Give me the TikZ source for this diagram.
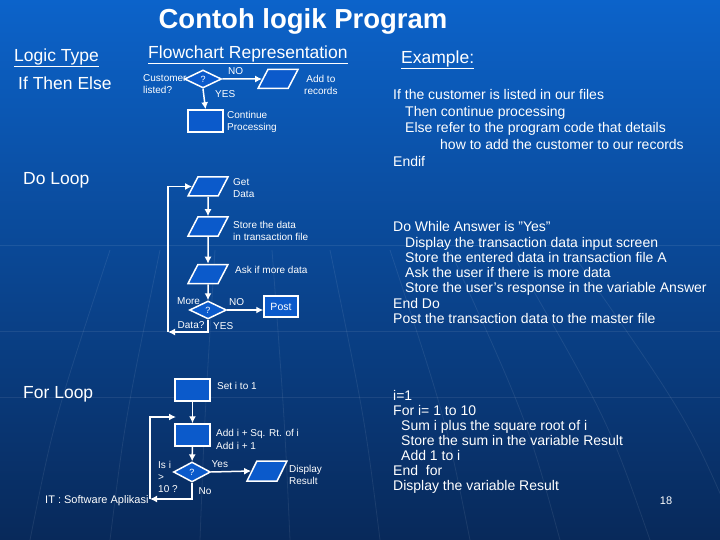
\documentclass[tikz,border=0pt]{standalone}
\usepackage{fontspec}
\setmainfont{Liberation Sans}
\usetikzlibrary{arrows.meta,shapes.geometric,positioning}
\definecolor{bgtop}{HTML}{0C63CA}
\definecolor{bgmid}{HTML}{0B4EA8}
\definecolor{bgbot}{HTML}{08295A}
\definecolor{shapeblue}{HTML}{0B5ACB}

\begin{document}
\begin{tikzpicture}[x=1pt, y=-1pt, >=Latex,
  every node/.style={text=white},
  flow/.style={draw=white, line width=1.5pt, fill=shapeblue, inner sep=0pt},
  procbox/.style={flow, rectangle, minimum width=35pt, minimum height=22pt},
  decision/.style={flow, diamond, minimum width=37pt, minimum height=18pt, font=\fontsize{9}{9}\selectfont},
  iobox/.style={flow, trapezium, trapezium left angle=65, trapezium right angle=115,
    trapezium stretches=true, minimum width=40pt, minimum height=19pt, font=\fontsize{4}{4}\selectfont},
  lbl/.style={anchor=west, align=left, inner sep=0pt, font=\fontsize{10}{12}\selectfont},
  heading/.style={anchor=west, inner sep=0pt, font=\fontsize{17.5}{20}\selectfont},
  codetxt/.style={anchor=north west, align=left, inner sep=0pt},
  link/.style={draw=white, line width=1.5pt, -{Latex[length=7pt,width=7pt]}},
  texture/.style={white, line width=0.8pt, opacity=0.08}]
  % background
  \useasboundingbox (0,0) rectangle (720,540);
  \shade[top color=bgtop, middle color=bgmid, bottom color=bgbot] (0,0) rectangle (720,540);
  \foreach \yy in {245,331,397}
    \draw[texture] (0,\yy) -- (720,\yy);
  \foreach \xa/\xb in {30/110,110/160,200/215,290/272,380/330,470/390,560/450,650/510,740/570}
    \draw[texture] (\xa,540) .. controls (\xa-0.3*\xa+0.3*\xb,420) .. (\xb,250);
  % headings
  \node[inner sep=0pt, font=\fontsize{27.5}{30}\selectfont\bfseries] (title) at (303,21) {Contoh logik Program};
  \node[heading] (logictype) at (14,58) {\underline{Logic Type}};
  \node[heading] (ifelse) at (18,83) {If Then Else};
  \node[heading] (flowrep) at (148,55) {\underline{Flowchart Representation}};
  \node[heading] (example) at (401,60) {\underline{Example:}};
  \node[heading] (doloop) at (23,180) {Do Loop};
  \node[heading] (forloop) at (23,394) {For Loop};

  % if then else
  \node[decision] (q1) at (203,79) {?};
  \node[iobox] (addrec) at (278,79) {\phantom{x}};
  \node[procbox] (cont) at (205.5,121) {};
  \node[lbl] (custtxt) at (143,84) {Customer\\listed?};
  \node[lbl, align=center] (addtxt) at (304,84.5) {Add to\\records};
  \node[lbl] (conttxt) at (227,121.5) {Continue\\Processing};
  \node[lbl] (no1) at (228,71) {NO};
  \node[lbl] (yes1) at (215,94) {YES};
  \draw[link] (q1.east) -- (addrec.west);
  \draw[link] (q1.south) -- (cont.north);

  % do loop
  \node[iobox] (getdata) at (208,186.5) {\phantom{x}};
  \node[iobox] (store) at (208,226.5) {\phantom{x}};
  \node[iobox] (ask) at (208,274) {\phantom{x}};
  \node[decision] (q2) at (208,310) {?};
  \node[procbox, minimum width=34pt, minimum height=21pt, font=\fontsize{10.5}{12}\selectfont] (post) at (281,306.5) {Post};
  \node[lbl] (gettxt) at (233,188.5) {Get\\Data};
  \node[lbl] (storetxt) at (233,230.5) {Store the data\\in transaction file};
  \node[lbl] (asktxt) at (235,270) {Ask if more data};
  \node[lbl] (moretxt) at (177,301.5) {More};
  \node[lbl] (datatxt) at (177.5,325.5) {Data?};
  \node[lbl] (no2) at (229,302.5) {NO};
  \node[lbl] (yes2) at (213,326) {YES};
  \coordinate (back2) at (168,332);
  \draw[link] (getdata) -- (store);
  \draw[link] (store) -- (ask);
  \draw[link] (ask) -- (q2);
  \draw[link] (q2.east) -- (q2.east -| post.west);
  \draw[link] (q2.south) |- (back2);
  \draw[link] (back2) |- (getdata.west);

  % for loop
  \node[procbox] (seti) at (192.5,390) {};
  \node[procbox] (addi) at (192.5,435) {};
  \node[decision, minimum height=20pt] (q3) at (192,472) {?};
  \node[iobox, minimum height=20pt] (disp) at (267,471) {\phantom{x}};
  \node[lbl] (setitxt) at (217,385.5) {Set i to 1};
  \node[lbl, font=\fontsize{10}{12.7}\selectfont] (additxt) at (216,439.7) {Add i + Sq. Rt. of i\\Add i + 1};
  \node[lbl] (isitxt) at (158,476.5) {Is i\\>\\10 ?};
  \node[lbl] (yes3) at (211.5,464.5) {Yes};
  \node[lbl] (no3) at (198.5,491.5) {No};
  \node[lbl] (disptxt) at (289,474.5) {Display\\Result};
  \coordinate (back3) at (150,499);
  \coordinate (loopin) at (176,417);
  \draw[link] (seti) -- (addi);
  \draw[link] (addi) -- (q3);
  \draw[link] (q3.east) -- (disp.west);
  \draw[link] (q3.south) |- (back3);
  \draw[link] (back3) |- (loopin);

  % pseudo code
  \node[codetxt, font=\fontsize{14}{16.7}\selectfont] (ifcode) at (393,89) {If the customer is listed in our files\\
    \hspace*{12pt}Then continue processing\\
    \hspace*{12pt}Else refer to the program code that details\\
    \hspace*{47pt}how to add the customer to our records\\
    Endif};
  \node[codetxt, font=\fontsize{14}{15.27}\selectfont] (docode) at (393,221.5) {Do While Answer is "Yes"\\
    \hspace*{12pt}Display the transaction data input screen\\
    \hspace*{12pt}Store the entered data in transaction file A\\
    \hspace*{12pt}Ask the user if there is more data\\
    \hspace*{12pt}Store the user's response in the variable Answer\\
    End Do\\
    Post the transaction data to the master file};
  \node[codetxt, font=\fontsize{14}{15}\selectfont] (forcode) at (393,389.7) {i=1\\
    For i= 1 to 10\\
    \hspace*{8pt}Sum i plus the square root of i\\
    \hspace*{8pt}Store the sum in the variable Result\\
    \hspace*{8pt}Add 1 to i\\
    End~ for\\
    Display the variable Result};

  % footer
  \node[lbl, font=\fontsize{11}{12}\selectfont] (footer) at (45,501) {IT : Software Aplikasi};
  \node[inner sep=0pt, font=\fontsize{11}{12}\selectfont] (pagenum) at (666,501) {18};
\end{tikzpicture}
\end{document}
